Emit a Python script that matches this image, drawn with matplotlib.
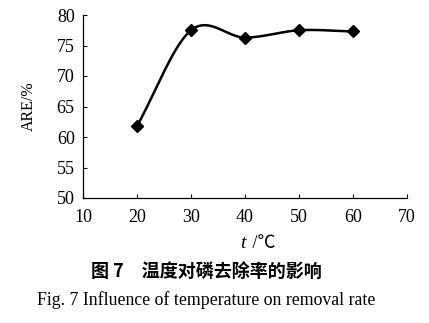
import numpy as np
import matplotlib.pyplot as plt

# 温度 (℃) 与磷去除率 ARE (%)
temps = [20, 30, 40, 50, 60]
are = [61.8, 77.5, 76.3, 77.5, 77.3]

x_ticks = [10, 20, 30, 40, 50, 60, 70]
y_ticks = [50, 55, 60, 65, 70, 75, 80]

caption_cn = "图 7　温度对磷去除率的影响"
caption_en = "Fig. 7 Influence of temperature on removal rate"


def smooth(xs, ys, n=40):
    # Catmull-Rom 平滑 (类似 Excel 的平滑线)
    xs = np.asarray(xs, float)
    ys = np.asarray(ys, float)
    px = np.concatenate([[2 * xs[0] - xs[1]], xs, [2 * xs[-1] - xs[-2]]])
    py = np.concatenate([[2 * ys[0] - ys[1]], ys, [2 * ys[-1] - ys[-2]]])
    ox, oy = [], []
    t = np.linspace(0, 1, n)
    for i in range(1, len(px) - 2):
        for p, out in ((px, ox), (py, oy)):
            p0, p1, p2, p3 = p[i - 1], p[i], p[i + 1], p[i + 2]
            out.extend(0.5 * (2 * p1 + (-p0 + p2) * t
                              + (2 * p0 - 5 * p1 + 4 * p2 - p3) * t ** 2
                              + (-p0 + 3 * p1 - 3 * p2 + p3) * t ** 3))
    return np.array(ox), np.array(oy)


plt.rcParams['font.family'] = ['Liberation Serif', 'Noto Sans CJK SC']

fig = plt.figure(figsize=(4.29, 3.23), dpi=100)
ax = fig.add_axes([83 / 429, 1 - 198 / 323, (407 - 83) / 429, (198 - 15) / 323])

sx, sy = smooth(temps, are)
ax.plot(sx, sy, color='black', lw=1.8)
ax.plot(temps, are, linestyle='none', marker='D', markersize=6.5,
        color='black')

ax.set_xlim(10, 70)
ax.set_ylim(50, 80)
ax.set_xticks(x_ticks)
ax.set_yticks(y_ticks)
ax.spines['top'].set_visible(False)
ax.spines['right'].set_visible(False)
for s in ('left', 'bottom'):
    ax.spines[s].set_linewidth(0.9)
ax.tick_params(direction='in', length=3, width=0.8, labelsize=13, pad=6)
ax.tick_params(axis='x', pad=8)

ax.set_ylabel("ARE/%", fontsize=11.5, labelpad=14)

# x 轴标题: 斜体 t + /℃
fig.text(246 / 429, 1 - 243 / 323, "t", ha='right', va='center',
         fontsize=14, fontstyle='italic')
fig.text(248 / 429, 1 - 243 / 323, " /℃", ha='left', va='center',
         fontsize=13, family=['Liberation Serif', 'Noto Sans CJK SC'])
fig.text(206 / 429, 1 - 272 / 323, caption_cn, ha='center', va='center',
         fontsize=13, fontweight='bold', family=['Noto Sans CJK SC'])
fig.text(206 / 429, 1 - 300 / 323, caption_en, ha='center', va='center',
         fontsize=12.8)

fig.savefig("out.png", dpi=100)
